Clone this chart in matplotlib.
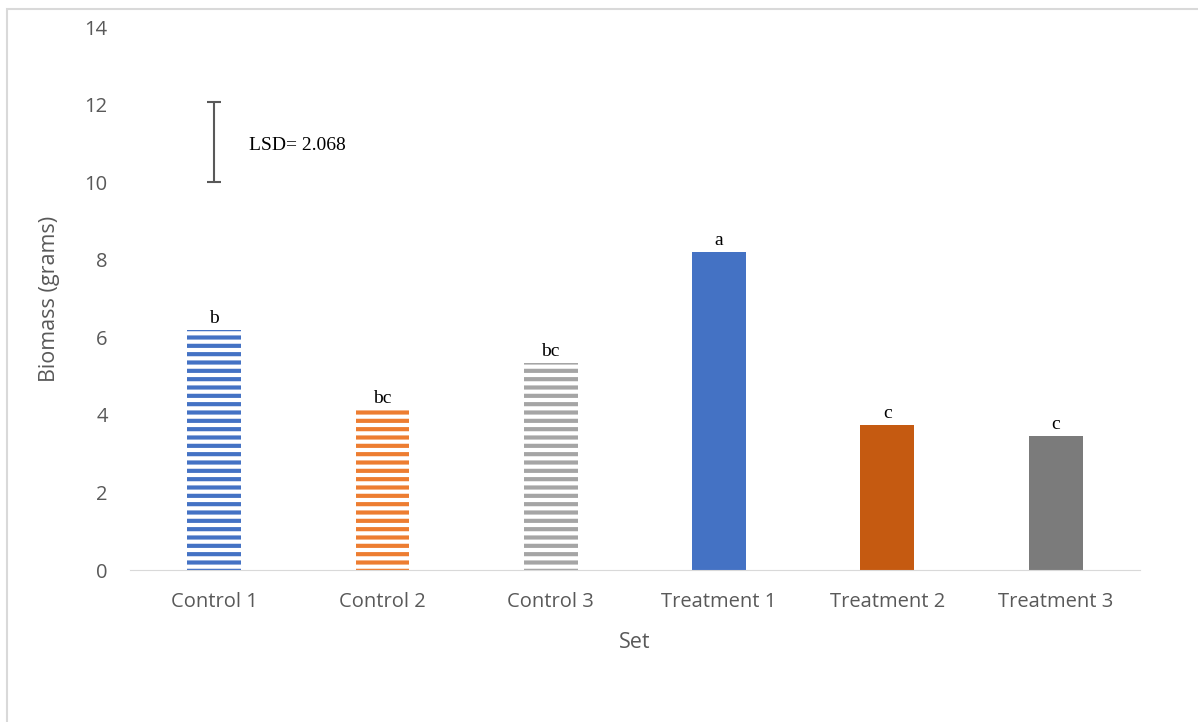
import matplotlib.pyplot as plt
from matplotlib.patches import Rectangle

sets = ['Control 1', 'Control 2', 'Control 3', 'Treatment 1', 'Treatment 2', 'Treatment 3']
biomass = [6.19, 4.12, 5.34, 8.20, 3.74, 3.45]
groups = ['b', 'bc', 'bc', 'a', 'c', 'c']
colors = ['#4472C4', '#ED7D31', '#A5A5A5', '#4472C4', '#C55A11', '#7B7B7B']
striped = [True, True, True, False, False, False]
lsd = 2.068
lsd_base = 10.0

plt.rcParams['hatch.linewidth'] = 3.0

fig = plt.figure(figsize=(11.98, 7.22), dpi=100)
ax = fig.add_axes([0.1085, 0.2105, 0.843, 0.752])

x = range(len(sets))
for i in x:
    if striped[i]:
        ax.bar(i, biomass[i], width=0.32, color='white', edgecolor=colors[i],
               hatch='--', linewidth=0)
    else:
        ax.bar(i, biomass[i], width=0.32, color=colors[i], linewidth=0)
    ax.annotate(groups[i], (i, biomass[i]), xytext=(0, 2), textcoords='offset points',
                ha='center', va='bottom', fontsize=14, family='Liberation Serif')

# LSD bar drawn over the first category
ax.errorbar(0, lsd_base + lsd / 2, yerr=lsd / 2, color='#595959', capsize=5,
            elinewidth=1.5, capthick=1.5)
ax.text(0.21, lsd_base + lsd * 0.46, 'LSD= ' + str(lsd), fontsize=14,
        family='Liberation Serif', va='center')

ax.set_ylim(0, 14)
ax.set_xlim(-0.5, len(sets) - 0.5)
ax.set_yticks(range(0, 15, 2))
ax.set_xticks(list(x))
ax.set_xticklabels(sets)
ax.tick_params(length=0, labelsize=14.5, labelcolor='#595959')
ax.tick_params(axis='x', pad=16)
ax.tick_params(axis='y', pad=16)
for lab in ax.get_xticklabels() + ax.get_yticklabels():
    lab.set_family('Open Sans')

for s in ['top', 'right', 'left']:
    ax.spines[s].set_visible(False)
ax.spines['bottom'].set_color('#D9D9D9')

ax.set_xlabel('Set', fontsize=15.5, color='#595959', family='Open Sans', labelpad=14)
ax.set_ylabel('Biomass (grams)', fontsize=15.5, color='#595959', family='Open Sans', labelpad=18)

# chart area outline, clipped at the right and bottom edges
fig.patches.append(Rectangle((7 / 1198, -0.1), 1.2, (722 - 9) / 722 + 0.1,
                             transform=fig.transFigure, fill=False,
                             edgecolor='#D9D9D9', linewidth=1.5))

fig.savefig('out.png', dpi=100)
